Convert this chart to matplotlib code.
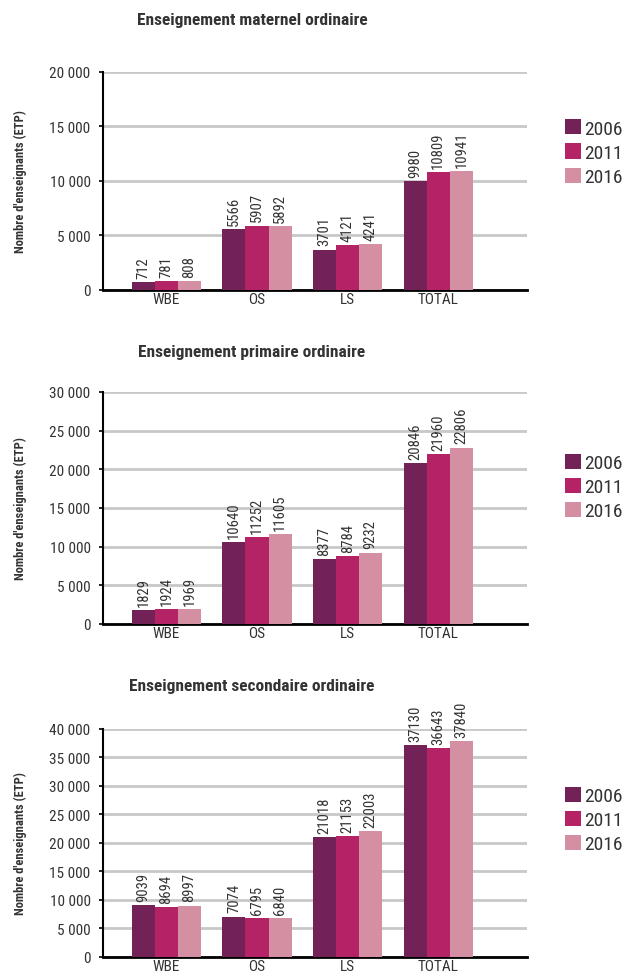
import numpy as np
import matplotlib
matplotlib.use("Agg")
import matplotlib.pyplot as plt

plt.rcParams['font.family'] = ['Roboto Condensed', 'Roboto', 'DejaVu Sans']

categories = ['WBE', 'OS', 'LS', 'TOTAL']
years = ['2006', '2011', '2016']
colors = ['#722257', '#B42366', '#D48FA2']

titles = ['Enseignement maternel ordinaire',
          'Enseignement primaire ordinaire',
          'Enseignement secondaire ordinaire']

maternel = [[712, 5566, 3701, 9980],
            [781, 5907, 4121, 10809],
            [808, 5892, 4241, 10941]]
primaire = [[1829, 10640, 8377, 20846],
            [1924, 11252, 8784, 21960],
            [1969, 11605, 9232, 22806]]
secondaire = [[9039, 7074, 21018, 37130],
              [8694, 6795, 21153, 36643],
              [8997, 6840, 22003, 37840]]
panels = [maternel, primaire, secondaire]

y_max = [20000, 30000, 40000]
y_ticks = [np.arange(0, 20001, 5000), np.arange(0, 30001, 5000), np.arange(0, 40001, 5000)]

# axes boxes in figure fraction (left, bottom, width, height)
boxes = [(0.1656, 0.7028, 0.6817, 0.2227),
         (0.1656, 0.3616, 0.6817, 0.2370),
         (0.1656, 0.0215, 0.6817, 0.2330)]
title_y = [1 - 20 / 979, 1 - 352 / 979, 1 - 687 / 979]
legend_y = [0.63, 0.59, 0.60]

txt = '#333333'

fig = plt.figure(figsize=(6.22, 9.79), dpi=100)

for k in range(3):
    ax = fig.add_axes(boxes[k])
    data = panels[k]
    x = np.arange(len(categories))
    w = 0.255
    for i in range(3):
        xs = x + (i - 1) * w
        ax.bar(xs, data[i], width=w, color=colors[i], label=years[i], zorder=3)
        for xi, v in zip(xs, data[i]):
            ax.annotate(str(v), (xi, v), xytext=(0, 3), textcoords='offset points',
                        rotation=90, ha='center', va='bottom',
                        fontsize=10.5, color=txt, zorder=4)
    ax.set_xlim(-0.70, 3.98)
    ax.set_ylim(0, y_max[k])
    ax.set_yticks(y_ticks[k])
    ax.set_yticklabels([f'{int(t):,}'.replace(',', ' ') for t in y_ticks[k]])
    ax.set_xticks(x)
    ax.set_xticklabels(categories)
    ax.tick_params(axis='x', length=0, pad=1.5, labelsize=11, labelcolor=txt)
    ax.tick_params(axis='y', length=3, width=1.2, pad=6, labelsize=11, labelcolor=txt)
    ax.yaxis.grid(True, color='#C8C8C8', linewidth=2)
    ax.set_axisbelow(True)
    for s in ['top', 'right']:
        ax.spines[s].set_visible(False)
    ax.spines['left'].set_linewidth(1.5)
    ax.spines['bottom'].set_linewidth(2)
    ax.set_ylabel("Nombre d'enseignants (ETP)", fontsize=9, fontweight='bold', color=txt)
    ax.yaxis.set_label_coords(-0.18, 0.5)
    fig.text(0.405, title_y[k], titles[k], ha='center', va='center',
             fontsize=12.5, fontweight='bold', color=txt)
    ax.legend(loc='center left', bbox_to_anchor=(1.09, legend_y[k]), frameon=False, fontsize=14,
              handlelength=0.82, handleheight=0.82, handletextpad=0.15, labelspacing=0.3,
              borderaxespad=0, borderpad=0, labelcolor=txt)

fig.savefig('out.png', dpi=100)
